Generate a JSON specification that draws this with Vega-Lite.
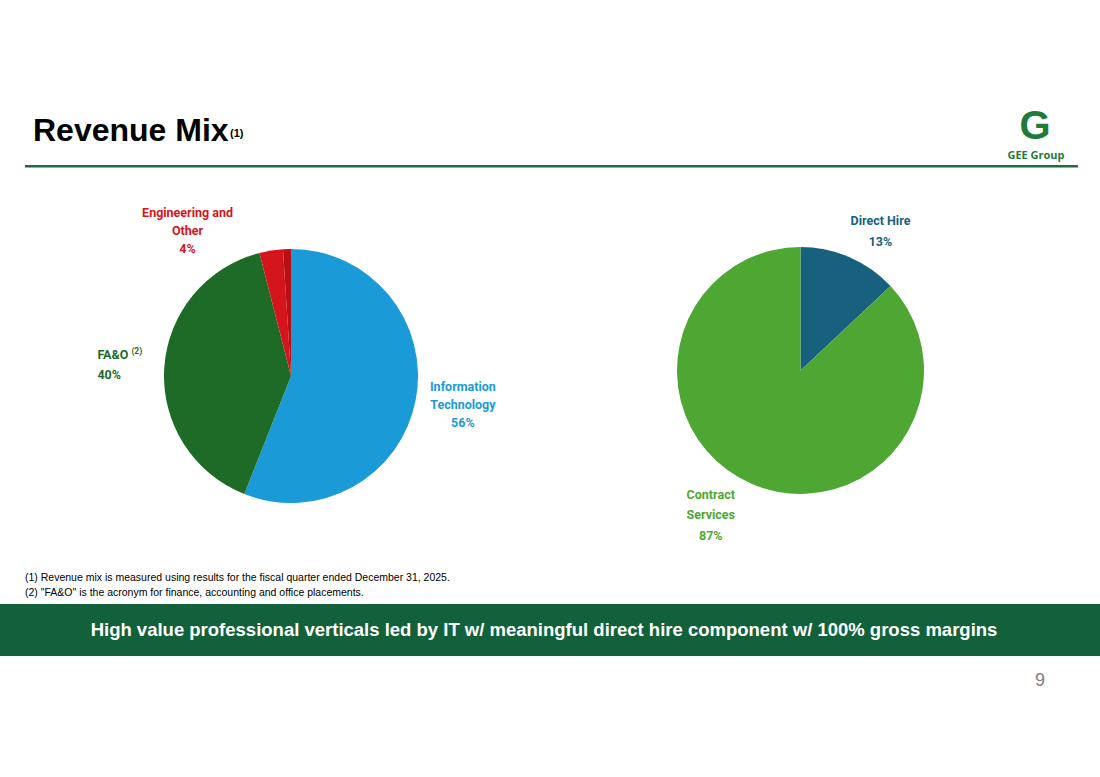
{
  "$schema": "https://vega.github.io/schema/vega-lite/v6.json",
  "width": 1100,
  "height": 777,
  "autosize": {"type": "fit", "contains": "padding"},
  "padding": 0,
  "background": "white",
  "config": {"view": {"stroke": null}, "text": {"font": "Liberation Sans"}},
  "datasets": {
    "vertical": [
      {"segment": "Information Technology", "share": 56, "label": "Information\nTechnology\n56%"},
      {"segment": "FA&O", "share": 40, "label": "FA&O\n40%"},
      {"segment": "Engineering", "share": 3, "label": "Engineering and\nOther\n4%"},
      {"segment": "Other", "share": 1, "label": ""}
    ],
    "worktype": [
      {"segment": "Direct Hire", "share": 13, "label": "Direct Hire\n13%"},
      {"segment": "Contract Services", "share": 87, "label": "Contract\nServices\n87%"}
    ]
  },
  "layer": [
    {
      "data": {"values": [{"part": "banner"}]},
      "mark": {"type": "rect", "x": 0, "x2": 1100, "y": 604, "y2": 656, "fill": "#12613a"},
      "encoding": {}
    },
    {
      "data": {"values": [{"part": "rule"}]},
      "mark": {"type": "rect", "x": 25, "x2": 1078, "y": 165, "y2": 167.5, "fill": "#1f6b3b"},
      "encoding": {}
    },
    {
      "data": {"name": "vertical"},
      "transform": [{"window": [{"op": "row_number", "as": "idx"}]}],
      "mark": {"type": "arc", "x": 291, "y": 376, "outerRadius": 127},
      "encoding": {
        "theta": {"field": "share", "type": "quantitative", "stack": true},
        "order": {"field": "idx", "type": "quantitative"},
        "color": {"field": "segment", "type": "nominal", "legend": null,
          "scale": {"domain": ["Information Technology", "FA&O", "Engineering", "Other", "Direct Hire", "Contract Services"],
                    "range": ["#1a9bd7", "#1d6b27", "#d4151b", "#b80f14", "#17617f", "#4ea733"]}}
      }
    },
    {
      "data": {"name": "worktype"},
      "transform": [{"window": [{"op": "row_number", "as": "idx"}]}],
      "mark": {"type": "arc", "x": 800.5, "y": 370.5, "outerRadius": 123.5},
      "encoding": {
        "theta": {"field": "share", "type": "quantitative", "stack": true},
        "order": {"field": "idx", "type": "quantitative"},
        "color": {"field": "segment", "type": "nominal", "legend": null}
      }
    },
    {
      "data": {"name": "vertical"},
      "transform": [{"window": [{"op": "row_number", "as": "idx"}]}],
      "mark": {"type": "text", "x": 291, "y": 376, "radius": 175, "dy": -22, "font": "Roboto", "fontWeight": "bold", "fontSize": 12.5, "lineBreak": "\n", "lineHeight": 18, "align": "center", "baseline": "middle"},
      "encoding": {
        "theta": {"field": "share", "type": "quantitative", "stack": true},
        "order": {"field": "idx", "type": "quantitative"},
        "color": {"field": "segment", "type": "nominal", "legend": null},
        "text": {"condition": {"test": "datum.segment === 'Information Technology'", "field": "label"}, "value": ""}
      }
    },
    {
      "data": {"name": "vertical"},
      "transform": [{"window": [{"op": "row_number", "as": "idx"}]}],
      "mark": {"type": "text", "x": 291, "y": 376, "radius": 194, "dy": -9, "font": "Roboto", "fontWeight": "bold", "fontSize": 12.5, "lineBreak": "\n", "lineHeight": 20, "align": "left", "baseline": "middle"},
      "encoding": {
        "theta": {"field": "share", "type": "quantitative", "stack": true},
        "order": {"field": "idx", "type": "quantitative"},
        "color": {"field": "segment", "type": "nominal", "legend": null},
        "text": {"condition": {"test": "datum.segment === 'FA&O'", "field": "label"}, "value": ""}
      }
    },
    {
      "data": {"name": "vertical"},
      "transform": [{"window": [{"op": "row_number", "as": "idx"}]}],
      "mark": {"type": "text", "x": 291, "y": 376, "radius": 194, "dx": 34, "dy": -13, "font": "Roboto", "fontWeight": "bold", "fontSize": 8.5, "align": "left", "baseline": "middle"},
      "encoding": {
        "theta": {"field": "share", "type": "quantitative", "stack": true},
        "order": {"field": "idx", "type": "quantitative"},
        "color": {"field": "segment", "type": "nominal", "legend": null},
        "text": {"condition": {"test": "datum.segment === 'FA&O'", "value": "(2)"}, "value": ""}
      }
    },
    {
      "data": {"name": "vertical"},
      "transform": [{"window": [{"op": "row_number", "as": "idx"}]}],
      "mark": {"type": "text", "x": 291, "y": 376, "radius": 150, "dx": -80, "dy": -15, "font": "Roboto", "fontWeight": "bold", "fontSize": 12.5, "lineBreak": "\n", "lineHeight": 18, "align": "center", "baseline": "middle"},
      "encoding": {
        "theta": {"field": "share", "type": "quantitative", "stack": true},
        "order": {"field": "idx", "type": "quantitative"},
        "color": {"field": "segment", "type": "nominal", "legend": null},
        "text": {"condition": {"test": "datum.segment === 'Engineering'", "field": "label"}, "value": ""}
      }
    },
    {
      "data": {"name": "worktype"},
      "transform": [{"window": [{"op": "row_number", "as": "idx"}]}],
      "mark": {"type": "text", "x": 800.5, "y": 370.5, "radius": 151, "dx": 20, "dy": -11, "font": "Roboto", "fontWeight": "bold", "fontSize": 12.5, "lineBreak": "\n", "lineHeight": 21, "align": "center", "baseline": "middle"},
      "encoding": {
        "theta": {"field": "share", "type": "quantitative", "stack": true},
        "order": {"field": "idx", "type": "quantitative"},
        "color": {"field": "segment", "type": "nominal", "legend": null},
        "text": {"condition": {"test": "datum.segment === 'Direct Hire'", "field": "label"}, "value": ""}
      }
    },
    {
      "data": {"name": "worktype"},
      "transform": [{"window": [{"op": "row_number", "as": "idx"}]}],
      "mark": {"type": "text", "x": 800.5, "y": 370.5, "radius": 158, "dx": -27, "dy": -21, "font": "Roboto", "fontWeight": "bold", "fontSize": 12.5, "lineBreak": "\n", "lineHeight": 20.5, "align": "center", "baseline": "middle"},
      "encoding": {
        "theta": {"field": "share", "type": "quantitative", "stack": true},
        "order": {"field": "idx", "type": "quantitative"},
        "color": {"field": "segment", "type": "nominal", "legend": null},
        "text": {"condition": {"test": "datum.segment === 'Contract Services'", "field": "label"}, "value": ""}
      }
    },
    {
      "data": {"values": [{"t": "Revenue Mix"}]},
      "mark": {"type": "text", "x": 33, "y": 141, "align": "left", "baseline": "alphabetic", "fontSize": 32, "fontWeight": "bold", "fill": "#000000"},
      "encoding": {"text": {"field": "t"}}
    },
    {
      "data": {"values": [{"t": "(1)"}]},
      "mark": {"type": "text", "x": 230, "y": 137, "align": "left", "baseline": "alphabetic", "fontSize": 11, "fontWeight": "bold", "fill": "#000000"},
      "encoding": {"text": {"field": "t"}}
    },
    {
      "data": {"values": [{"t": "G"}]},
      "mark": {"type": "text", "x": 1035, "y": 139, "align": "center", "baseline": "alphabetic", "fontSize": 40, "fontWeight": "bold", "fill": "#1e7b3a"},
      "encoding": {"text": {"field": "t"}}
    },
    {
      "data": {"values": [{"t": "GEE Group"}]},
      "mark": {"type": "text", "x": 1036, "y": 159, "align": "center", "baseline": "alphabetic", "fontSize": 11, "fontWeight": "bold", "font": "Open Sans", "fill": "#1e7b3a"},
      "encoding": {"text": {"field": "t"}}
    },
    {
      "data": {"values": [{"t": "(1) Revenue mix is measured using results for the fiscal quarter ended December 31, 2025.\n(2) \"FA&O\" is the acronym for finance, accounting and office placements."}]},
      "mark": {"type": "text", "x": 25, "y": 581, "align": "left", "baseline": "alphabetic", "fontSize": 10.5, "lineBreak": "\n", "lineHeight": 15, "fill": "#000000"},
      "encoding": {"text": {"field": "t"}}
    },
    {
      "data": {"values": [{"t": "High value professional verticals led by IT w/ meaningful direct hire component w/ 100% gross margins"}]},
      "mark": {"type": "text", "x": 544, "y": 630, "align": "center", "baseline": "middle", "fontSize": 18.5, "fontWeight": "bold", "fill": "#ffffff"},
      "encoding": {"text": {"field": "t"}}
    },
    {
      "data": {"values": [{"t": "9"}]},
      "mark": {"type": "text", "x": 1040, "y": 686, "align": "center", "baseline": "alphabetic", "fontSize": 18, "fill": "#7f7f7f"},
      "encoding": {"text": {"field": "t"}}
    }
  ]
}
